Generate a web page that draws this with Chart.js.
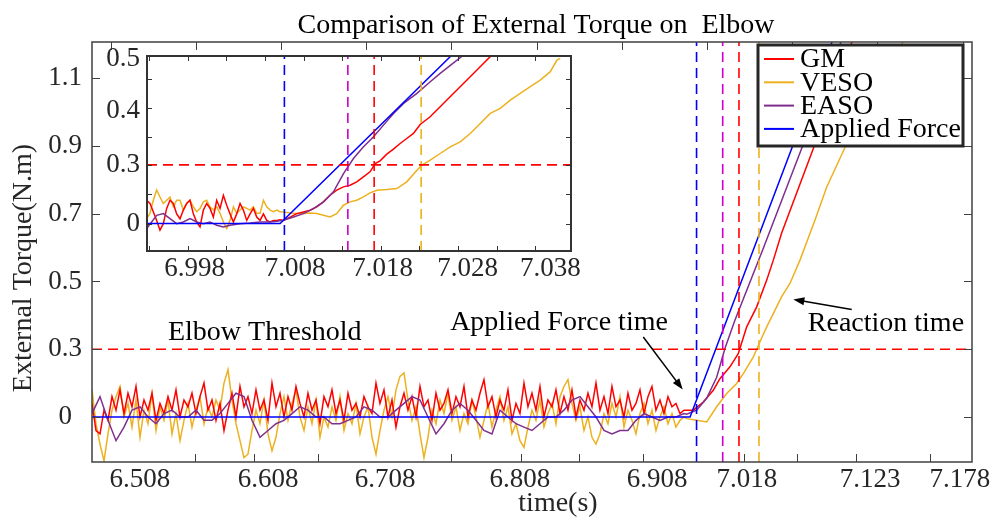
<!DOCTYPE html>
<html>
<head>
<meta charset="utf-8">
<script src="https://cdn.jsdelivr.net/npm/chart.js@4.4.0/dist/chart.umd.min.js"></script>
<style>
  html, body { margin: 0; padding: 0; background: #fff; }
  #wrap { position: relative; width: 995px; height: 520px; }
  #main { position: absolute; left: 0; top: 0; }
  #inset { position: absolute; left: 100px; top: 30px; }
</style>
</head>
<body>
<div id="wrap">
  <canvas id="main" width="995" height="520"></canvas>
  <canvas id="inset" width="480" height="260"></canvas>
</div>
<script>
// ---- data: main axes ----
const seriesNames = ['GM', 'VESO', 'EASO', 'Applied Force'];

const xTickPos = [6.4998, 6.6060, 6.7031, 6.8150, 6.9287, 7.0033, 7.1054, 7.1800];
const xTickLabels = ['6.508', '6.608', '6.708', '6.808', '6.908', '7.018', '7.123', '7.178'];
const yTickPos = [0.1, 0.3, 0.5, 0.7, 0.9, 1.1];
const yTickLabels = ['0', '0.3', '0.5', '0.7', '0.9', '1.1'];
const xMarksBottom = [6.5454, 6.5944, 6.6475, 6.7578, 6.8159, 6.8640, 6.9171, 7.0009, 7.0448, 7.0938, 7.1551];
const xMarksTop = [6.4755, 6.5462, 6.6169, 6.6875, 6.7582, 6.8289, 6.8996, 6.9703, 7.0410, 7.1116, 7.1823];

// noise before the push, sampled every step seconds from noiseStart
const noiseStart = 6.46;
const gmStep = 0.003318;
const gmNoise = [
  0.14, 0.06, 0.05, 0.12, 0.09, 0.16, 0.12, 0.18, 0.11, 0.17,
  0.13, 0.19, 0.10, 0.15, 0.12, 0.17, 0.09, 0.14, 0.11, 0.16,
  0.12, 0.18, 0.10, 0.15, 0.13, 0.17, 0.11, 0.16, 0.20, 0.12,
  0.15, 0.09, 0.14, 0.06, 0.12, 0.17, 0.10, 0.19, 0.13, 0.16,
  0.11, 0.18, 0.12, 0.15, 0.09, 0.20, 0.13, 0.17, 0.10, 0.16,
  0.12, 0.19, 0.14, 0.10, 0.17, 0.12, 0.15, 0.08, 0.16, 0.13,
  0.18, 0.11, 0.15, 0.09, 0.17, 0.12, 0.14, 0.10, 0.16, 0.13,
  0.11, 0.20, 0.14, 0.18, 0.10, 0.15, 0.07, 0.13, 0.17, 0.12,
  0.16, 0.10, 0.19, 0.13, 0.15, 0.09, 0.17, 0.12, 0.14, 0.18,
  0.11, 0.16, 0.13, 0.19, 0.10, 0.15, 0.12, 0.17, 0.21, 0.13,
  0.16, 0.10, 0.15, 0.12, 0.18, 0.09, 0.14, 0.11, 0.20, 0.13,
  0.17, 0.12, 0.19, 0.10, 0.15, 0.13, 0.18, 0.11, 0.16, 0.12,
  0.18, 0.10, 0.15, 0.12, 0.17, 0.13, 0.20, 0.12, 0.16, 0.11,
  0.19, 0.13, 0.15, 0.10, 0.17, 0.12, 0.14, 0.18, 0.11, 0.16,
  0.19, 0.12, 0.15, 0.11, 0.16, 0.13, 0.14, 0.11, 0.12
];
const vesoStep = 0.003318;
const vesoNoise = [
  0.18, 0.08, 0.02, -0.03, 0.05, 0.12, 0.16, 0.19, 0.10, 0.14,
  0.07, 0.15, 0.04, 0.12, 0.08, 0.17, 0.06, 0.13, 0.09, 0.15,
  0.05, 0.11, 0.03, 0.09, 0.14, 0.07, 0.12, 0.16, 0.08, 0.13,
  0.10, 0.15, 0.12, 0.20, 0.24, 0.15, 0.08, 0.03, -0.02, -0.01,
  0.06, 0.12, 0.08, 0.15, 0.05, 0.00, 0.04, 0.11, 0.16, 0.09,
  0.14, 0.18, 0.10, 0.06, 0.13, 0.08, 0.15, 0.04, 0.10, 0.07,
  0.13, 0.09, 0.16, 0.06, 0.11, 0.08, 0.14, 0.05, 0.10, 0.13,
  0.04, -0.01, 0.06, 0.12, 0.16, 0.10, 0.18, 0.22, 0.23, 0.15,
  0.09, 0.13, 0.05, -0.02, 0.04, 0.12, 0.08, 0.15, 0.11, 0.17,
  0.09, 0.13, 0.06, 0.11, 0.08, 0.15, 0.10, 0.04, 0.09, 0.14,
  0.07, 0.12, 0.16, 0.09, 0.13, 0.05, 0.08, 0.03, 0.01, 0.07,
  0.12, 0.09, 0.15, 0.07, 0.11, 0.14, 0.08, 0.16, 0.19, 0.21,
  0.14, 0.09, 0.13, 0.06, 0.10, 0.04, 0.02, 0.05, 0.11, 0.08,
  0.14, 0.10, 0.16, 0.07, 0.12, 0.09, 0.05, 0.11, 0.14, 0.08,
  0.12, 0.06, 0.10, 0.13, 0.08, 0.11, 0.07, 0.09, 0.10
];
const easoStep = 0.006636;
const easoNoise = [
  0.11, 0.16, 0.09, 0.03, 0.07, 0.12, 0.13, 0.10, 0.08, 0.11,
  0.12, 0.10, 0.10, 0.12, 0.09, 0.09, 0.11, 0.14, 0.17, 0.16,
  0.09, 0.04, 0.06, 0.08, 0.09, 0.11, 0.13, 0.12, 0.10, 0.10,
  0.08, 0.08, 0.09, 0.10, 0.13, 0.12, 0.10, 0.10, 0.12, 0.14,
  0.16, 0.15, 0.10, 0.05, 0.08, 0.12, 0.14, 0.12, 0.09, 0.06,
  0.05, 0.12, 0.10, 0.08, 0.07, 0.06, 0.08, 0.10, 0.10, 0.12,
  0.15, 0.16, 0.13, 0.10, 0.06, 0.05, 0.06, 0.06, 0.09, 0.11,
  0.10, 0.09, 0.10, 0.10, 0.11
];

// rise after the push: [time, torque]
const gmRamp = [
  [6.9588, 0.120], [6.9671, 0.144], [6.9754, 0.179], [6.9809, 0.213], [6.9892, 0.248],
  [6.9961, 0.287], [7.0031, 0.366], [7.0114, 0.425], [7.0197, 0.504], [7.0252, 0.563],
  [7.0321, 0.643], [7.0625, 0.932], [7.0904, 1.207]
];
const vesoRamp = [
  [6.9533, 0.095], [6.9616, 0.090], [6.9699, 0.085], [6.9782, 0.130], [6.9865, 0.169],
  [6.9948, 0.199], [7.0003, 0.228], [7.0086, 0.277], [7.0141, 0.322], [7.0197, 0.366],
  [7.0252, 0.405], [7.0321, 0.455], [7.0390, 0.494], [7.0473, 0.563], [7.0597, 0.681],
  [7.0695, 0.779], [7.0874, 0.917], [7.1328, 1.207]
];
const easoRamp = [
  [6.9533, 0.108], [6.9616, 0.120], [6.9699, 0.155], [6.9782, 0.217], [6.9851, 0.303],
  [6.9934, 0.386], [7.0169, 0.598], [7.0529, 0.932], [7.0813, 1.207]
];
const appliedForce = [[6.46, 0.1], [6.9561, 0.1], [7.0739, 1.207]];

const threshold = 0.3;
// applied force, EASO, GM, VESO detection times
const markTimes = [6.9615, 6.9832, 6.9967, 7.0133];

// ---- data: zoomed inset ----
const insetXTickPos = [6.99791, 7.00920, 7.01906, 7.02863, 7.03792];
const insetXTickLabels = ['6.998', '7.008', '7.018', '7.028', '7.038'];
const insetYTickPos = [0.1922, 0.3, 0.4, 0.4945];
const insetYTickLabels = ['0', '0.3', '0.4', '0.5'];
const insetXMarks = [6.99276, 6.99711, 7.00146, 7.00580, 7.01015, 7.01450, 7.01884, 7.02319, 7.02754, 7.03188, 7.03623];
const insetYMarks = [0.1922, 0.2461, 0.3, 0.3515, 0.4049, 0.4582];

const insetStart = 6.99250;
const insetStep = 0.0003754;
const insetGmNoise = [
  0.235, 0.229, 0.214, 0.198, 0.180, 0.192, 0.220, 0.235, 0.229, 0.210,
  0.201, 0.217, 0.229, 0.235, 0.210, 0.195, 0.186, 0.217, 0.229, 0.220,
  0.204, 0.235, 0.220, 0.244, 0.226, 0.210, 0.195, 0.210, 0.229, 0.217,
  0.198, 0.210, 0.220, 0.204, 0.198, 0.210, 0.198, 0.195, 0.198, 0.198,
  0.199
];
const insetVesoNoise = [
  0.201, 0.211, 0.235, 0.254, 0.241, 0.229, 0.235, 0.241, 0.223, 0.235,
  0.235, 0.217, 0.229, 0.235, 0.223, 0.214, 0.220, 0.232, 0.235, 0.223,
  0.217, 0.223, 0.211, 0.195, 0.183, 0.198, 0.223, 0.211, 0.217, 0.223,
  0.220, 0.217, 0.223, 0.211, 0.211, 0.235, 0.223, 0.217, 0.214, 0.217,
  0.214
];
const insetGmRamp = [
  [7.00789, 0.198], [7.00864, 0.204], [7.00939, 0.2105], [7.01014, 0.2136], [7.01089, 0.2167],
  [7.01164, 0.2228], [7.01239, 0.232], [7.01314, 0.2443], [7.01389, 0.2535], [7.01464, 0.2596],
  [7.01539, 0.2627], [7.01614, 0.2688], [7.01689, 0.278], [7.01764, 0.2872], [7.01821, 0.3025],
  [7.01877, 0.3074], [7.01952, 0.3197], [7.02027, 0.3289], [7.02102, 0.3393], [7.02177, 0.3485],
  [7.02252, 0.3577], [7.02328, 0.3743], [7.02440, 0.3883], [7.02553, 0.4068], [7.02665, 0.4252],
  [7.02778, 0.4436], [7.02891, 0.4619], [7.03003, 0.4804], [7.03116, 0.4987], [7.03153, 0.5018]
];
const insetVesoRamp = [
  [7.00789, 0.2136], [7.00864, 0.2117], [7.00939, 0.2105], [7.01014, 0.2105], [7.01089, 0.2117],
  [7.01164, 0.2105], [7.01239, 0.2074], [7.01314, 0.2044], [7.01389, 0.2105], [7.01464, 0.2259],
  [7.01539, 0.2320], [7.01614, 0.2351], [7.01689, 0.2412], [7.01764, 0.2485], [7.01840, 0.2535],
  [7.01952, 0.2547], [7.02065, 0.2565], [7.02177, 0.2688], [7.02291, 0.2902], [7.02347, 0.2994],
  [7.02441, 0.3086], [7.02553, 0.3209], [7.02666, 0.3332], [7.02778, 0.3424], [7.02891, 0.3577],
  [7.03004, 0.3761], [7.03116, 0.3945], [7.03229, 0.4037], [7.03342, 0.4190], [7.03454, 0.4313],
  [7.03567, 0.4436], [7.03679, 0.4558], [7.03792, 0.4712], [7.03867, 0.4926], [7.03904, 0.4957]
];
const insetEaso = [
  [6.99250, 0.183], [6.99363, 0.2074], [6.99438, 0.2105], [6.99513, 0.2013], [6.99588, 0.192],
  [6.99663, 0.1952], [6.99738, 0.2013], [6.99813, 0.1952], [6.99888, 0.192], [6.99963, 0.1952],
  [7.00038, 0.1891], [7.00113, 0.186], [7.00189, 0.1891], [7.00301, 0.192], [7.00414, 0.1933],
  [7.00526, 0.1952], [7.00639, 0.1952], [7.00714, 0.1964], [7.00789, 0.1982], [7.00902, 0.2044],
  [7.01014, 0.2105], [7.01127, 0.2197], [7.01240, 0.232], [7.01352, 0.2504], [7.01465, 0.2841],
  [7.01577, 0.3117], [7.01690, 0.3332], [7.01803, 0.3516], [7.01915, 0.373], [7.02028, 0.3945],
  [7.02141, 0.4129], [7.02291, 0.4313], [7.02441, 0.4527], [7.02553, 0.4681], [7.02816, 0.5018]
];
const insetApplied = [[6.99254, 0.1922], [7.00752, 0.1922], [7.02674, 0.5]];
const insetMarkTimes = [7.008, 7.01514, 7.0181, 7.02339];

// ---- look ----
const FONT = '"Liberation Serif", "Times New Roman", serif';
const RED = '#ff0000', ORANGE = '#edb120', PURPLE = '#7e2f8e', BLUE = '#0000ff', MAGENTA = '#cc00cc';
const seriesColors = [RED, ORANGE, PURPLE, BLUE];
const markColors = [BLUE, MAGENTA, RED, ORANGE];

function sampled(values, start, step) {
  return values.map((v, i) => ({ x: start + i * step, y: v }));
}
function pairs(list) {
  return list.map(([x, y]) => ({ x, y }));
}

function buildDatasets(curves, marks, xr, yr) {
  const sets = curves.map((data, i) => ({
    label: seriesNames[i],
    data,
    borderColor: seriesColors[i],
    borderWidth: 1.5,
    order: [3, 4, 2, 1][i]
  }));
  sets.push({
    data: [{ x: xr[0], y: threshold }, { x: xr[1], y: threshold }],
    borderColor: RED, borderWidth: 1.6, borderDash: [10, 6], order: 0
  });
  marks.forEach((t, i) => sets.push({
    data: [{ x: t, y: yr[0] }, { x: t, y: yr[1] }],
    borderColor: markColors[i], borderWidth: 1.6, borderDash: [10, 6], order: 0
  }));
  return sets;
}

const frame = {
  id: 'frame',
  beforeDatasetsDraw(chart) {
    const { ctx, chartArea: a } = chart;
    ctx.save();
    ctx.fillStyle = '#fff';
    ctx.fillRect(a.left, a.top, a.width, a.height);
    ctx.restore();
  },
  afterDatasetsDraw(chart, args, o) {
    const { ctx, chartArea: a, scales: { x, y } } = chart;
    ctx.save();
    ctx.strokeStyle = o.color;
    ctx.lineWidth = 1;
    ctx.beginPath();
    for (const v of o.xBottom) {
      const px = Math.round(x.getPixelForValue(v)) + 0.5;
      ctx.moveTo(px, a.bottom); ctx.lineTo(px, a.bottom - o.len);
    }
    for (const v of o.xTop) {
      const px = Math.round(x.getPixelForValue(v)) + 0.5;
      ctx.moveTo(px, a.top); ctx.lineTo(px, a.top + o.len);
    }
    for (const v of o.y) {
      const py = Math.round(y.getPixelForValue(v)) + 0.5;
      ctx.moveTo(a.left, py); ctx.lineTo(a.left + o.len, py);
      ctx.moveTo(a.right, py); ctx.lineTo(a.right - o.len, py);
    }
    ctx.stroke();
    ctx.lineWidth = o.width;
    ctx.strokeRect(a.left, a.top, a.width, a.height);
    ctx.restore();
  }
};

function arrow(ctx, x1, y1, x2, y2) {
  const ang = Math.atan2(y2 - y1, x2 - x1);
  ctx.beginPath();
  ctx.moveTo(x1, y1);
  ctx.lineTo(x2 - 8 * Math.cos(ang), y2 - 8 * Math.sin(ang));
  ctx.stroke();
  ctx.beginPath();
  ctx.moveTo(x2, y2);
  ctx.lineTo(x2 - 11 * Math.cos(ang) + 4 * Math.sin(ang), y2 - 11 * Math.sin(ang) - 4 * Math.cos(ang));
  ctx.lineTo(x2 - 11 * Math.cos(ang) - 4 * Math.sin(ang), y2 - 11 * Math.sin(ang) + 4 * Math.cos(ang));
  ctx.closePath();
  ctx.fill();
}

// notes are anchored in data units
const notes = [
  { text: 'Elbow Threshold', t: 6.6033, v: 0.327 },
  { text: 'Applied Force time', t: 6.8474, v: 0.356 },
  { text: 'Reaction time', t: 7.1186, v: 0.353 }
];
const pointers = [
  { from: [6.9173, 0.336], to: [6.9500, 0.181] },
  { from: [7.0902, 0.417], to: [7.0418, 0.447] }
];

const extras = {
  id: 'extras',
  afterDraw(chart) {
    const { ctx, chartArea: a, scales: { x, y } } = chart;
    ctx.save();
    ctx.font = `28px ${FONT}`;
    ctx.textAlign = 'center';
    ctx.textBaseline = 'alphabetic';
    ctx.fillStyle = '#000';
    ctx.fillText('Comparison of External Torque on  Elbow', (a.left + a.right) / 2 + 4, 33);

    ctx.fillStyle = '#262626';
    ctx.fillText('time(s)', 558, 511);
    ctx.save();
    ctx.translate(31, 268);
    ctx.rotate(-Math.PI / 2);
    ctx.fillText('External Torque(N.m)', 0, 0);
    ctx.restore();

    ctx.fillStyle = '#000';
    for (const n of notes) ctx.fillText(n.text, x.getPixelForValue(n.t), y.getPixelForValue(n.v));
    ctx.strokeStyle = '#000';
    ctx.lineWidth = 1.5;
    for (const p of pointers) {
      arrow(ctx, x.getPixelForValue(p.from[0]), y.getPixelForValue(p.from[1]),
        x.getPixelForValue(p.to[0]), y.getPixelForValue(p.to[1]));
    }

    // legend box in the upper right corner
    const lx = a.right - 214, ly = a.top + 3, lw = 205, lh = 101;
    ctx.fillStyle = '#fff';
    ctx.fillRect(lx, ly, lw, lh);
    ctx.lineWidth = 3;
    ctx.strokeStyle = '#262626';
    ctx.strokeRect(lx, ly, lw, lh);
    ctx.textAlign = 'left';
    ctx.textBaseline = 'middle';
    chart.data.datasets.slice(0, 4).forEach((ds, i) => {
      const ry = ly + 14 + i * 23.3;
      ctx.strokeStyle = ds.borderColor;
      ctx.lineWidth = 2;
      ctx.beginPath();
      ctx.moveTo(lx + 6, ry);
      ctx.lineTo(lx + 36, ry);
      ctx.stroke();
      ctx.fillStyle = '#000';
      ctx.fillText(ds.label, lx + 42, ry + 1);
    });
    ctx.restore();
  }
};

function axisX(min, max, pos, labels, h, pad) {
  return {
    type: 'linear', min, max,
    grid: { display: false, drawTicks: false },
    border: { display: false },
    afterBuildTicks: s => { s.ticks = pos.map(v => ({ value: v })); },
    afterFit: s => { s.height = h; s.paddingLeft = 0; s.paddingRight = 0; },
    ticks: {
      autoSkip: false, maxRotation: 0, padding: pad, color: '#262626',
      font: { family: FONT, size: 27 },
      callback: (v, i) => labels[i]
    }
  };
}
function axisY(min, max, pos, labels, w, pad, align) {
  return {
    type: 'linear', min, max,
    grid: { display: false, drawTicks: false },
    border: { display: false },
    afterBuildTicks: s => { s.ticks = pos.map(v => ({ value: v })); },
    afterFit: s => { s.width = w; s.paddingTop = 0; s.paddingBottom = 0; },
    ticks: {
      autoSkip: false, padding: pad, crossAlign: align, color: '#262626',
      font: { family: FONT, size: 27 },
      callback: (v, i) => labels[i]
    }
  };
}

const common = {
  responsive: false,
  animation: false,
  devicePixelRatio: 1,
  elements: { point: { radius: 0 }, line: { tension: 0 } },
  events: []
};

const mainX = [6.46, 7.19], mainY = [-0.033, 1.207];
new Chart(document.getElementById('main'), {
  type: 'line',
  data: {
    datasets: buildDatasets([
      sampled(gmNoise, noiseStart, gmStep).concat(pairs(gmRamp)),
      sampled(vesoNoise, noiseStart, vesoStep).concat(pairs(vesoRamp)),
      sampled(easoNoise, noiseStart, easoStep).concat(pairs(easoRamp)),
      pairs(appliedForce)
    ], markTimes, mainX, mainY)
  },
  options: {
    ...common,
    layout: { padding: { top: 42, right: 23, left: 0, bottom: 0 } },
    plugins: {
      legend: { display: false }, tooltip: { enabled: false },
      frame: { color: '#404040', width: 1.5, len: 8, xBottom: xMarksBottom, xTop: xMarksTop, y: yTickPos }
    },
    scales: {
      x: axisX(mainX[0], mainX[1], xTickPos, xTickLabels, 58, 2),
      y: axisY(mainY[0], mainY[1], yTickPos, yTickLabels, 92, 10, 'center')
    }
  },
  plugins: [frame, extras]
});

const insetXR = [6.99254, 7.04025], insetYR = [0.1418, 0.5];
new Chart(document.getElementById('inset'), {
  type: 'line',
  data: {
    datasets: buildDatasets([
      sampled(insetGmNoise, insetStart, insetStep).concat(pairs(insetGmRamp)),
      sampled(insetVesoNoise, insetStart, insetStep).concat(pairs(insetVesoRamp)),
      pairs(insetEaso),
      pairs(insetApplied)
    ], insetMarkTimes, insetXR, insetYR)
  },
  options: {
    ...common,
    layout: { padding: { top: 26, right: 9, left: 0, bottom: 0 } },
    plugins: {
      legend: { display: false }, tooltip: { enabled: false },
      frame: { color: '#333', width: 2, len: 5, xBottom: insetXMarks, xTop: insetXMarks, y: insetYMarks }
    },
    scales: {
      x: axisX(insetXR[0], insetXR[1], insetXTickPos, insetXTickLabels, 39, 2),
      y: axisY(insetYR[0], insetYR[1], insetYTickPos, insetYTickLabels, 47, 7, 'near')
    }
  },
  plugins: [frame]
});
</script>
</body>
</html>
